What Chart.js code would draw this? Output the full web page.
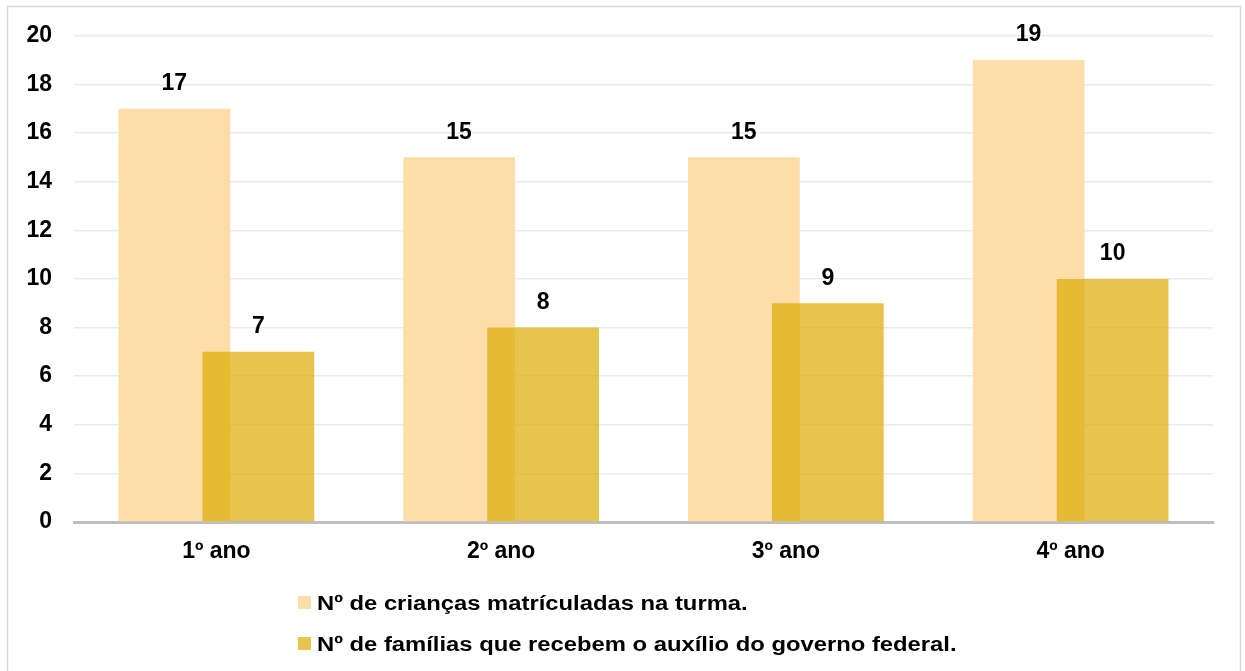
<!DOCTYPE html>
<html>
<head>
<meta charset="utf-8">
<script src="https://cdn.jsdelivr.net/npm/chart.js@4"></script>
<style>
  html, body { margin: 0; padding: 0; background: #fff; }
  #wrap { position: relative; width: 1245px; height: 671px; }
</style>
</head>
<body>
<div id="wrap"><canvas id="chart" width="1245" height="671"></canvas></div>
<script>
// chart data
const categories = ['1º ano', '2º ano', '3º ano', '4º ano'];
const matriculadas = [17, 15, 15, 19];
const familias = [7, 8, 9, 10];
const seriesNames = [
  'Nº de crianças matrículadas na turma.',
  'Nº de famílias que recebem o auxílio do governo federal.'
];
const yMin = 0, yMax = 20, yStep = 2;

const FONT = '"Liberation Sans", Arial, sans-serif';

// white background + light frame around the whole picture
const framePlugin = {
  id: 'frame',
  beforeDraw(chart) {
    const ctx = chart.ctx;
    ctx.save();
    ctx.fillStyle = '#fff';
    ctx.fillRect(0, 0, chart.width, chart.height);
    ctx.strokeStyle = '#D9D9D9';
    ctx.lineWidth = 1.5;
    ctx.strokeRect(7.5, 6.5, 1233, 700);
    ctx.restore();
  }
};

// Chart.js paints the first dataset last (on top); the gold series has to sit
// over the peach one, so skip it in the normal pass and paint it afterwards
const goldOnTop = {
  id: 'goldOnTop',
  beforeDatasetDraw(chart, args) {
    if (args.index === 1) return false;
  },
  afterDatasetsDraw(chart) {
    chart.getDatasetMeta(1).controller.draw();
  }
};

// value labels above each bar
const valueLabels = {
  id: 'valueLabels',
  afterDatasetsDraw(chart) {
    const ctx = chart.ctx;
    ctx.save();
    ctx.font = 'bold 23px ' + FONT;
    ctx.fillStyle = '#000';
    ctx.textAlign = 'center';
    ctx.textBaseline = 'middle';
    chart.data.datasets.forEach((ds, i) => {
      chart.getDatasetMeta(i).data.forEach((bar, j) => {
        ctx.fillText(ds.data[j], bar.x, bar.y - 25);
      });
    });
    ctx.restore();
  }
};

// vertical legend under the x axis
const bottomLegend = {
  id: 'bottomLegend',
  afterDraw(chart) {
    const ctx = chart.ctx;
    ctx.save();
    ctx.textBaseline = 'middle';
    ctx.textAlign = 'left';
    chart.data.datasets.forEach((ds, i) => {
      const y = 603 + i * 41;
      ctx.fillStyle = ds.backgroundColor;
      ctx.fillRect(298, y - 7, 13, 13);
      ctx.fillStyle = '#000';
      ctx.font = 'bold 20px ' + FONT;
      ctx.save();
      ctx.translate(317, y + 1);
      ctx.scale(1.19, 1);
      ctx.fillText(ds.label, 0, 0);
      ctx.restore();
    });
    ctx.restore();
  }
};

const ctx = document.getElementById('chart').getContext('2d');
const chart = new Chart(ctx, {
  type: 'bar',
  data: {
    labels: categories,
    datasets: [{
      label: seriesNames[0],
      data: matriculadas,
      backgroundColor: '#FDDEA8',
      borderWidth: 0
    }, {
      label: seriesNames[1],
      data: familias,
      backgroundColor: 'rgba(220, 171, 2, 0.7)',
      borderWidth: 0
    }]
  },
  options: {
    responsive: false,
    animation: false,
    categoryPercentage: 0.59,
    barPercentage: 1.33,
    layout: { padding: { left: 8, right: 32, top: 35, bottom: 0 } },
    plugins: {
      legend: { display: false },
      tooltip: { enabled: false }
    },
    scales: {
      x: {
        grid: { display: false, drawTicks: false },
        border: { display: true, color: '#BFBFBF', width: 3 },
        ticks: {
          padding: 16,
          color: '#000',
          font: { family: FONT, size: 23, weight: 'bold' }
        },
        afterFit(scale) { scale.height = 149; }
      },
      y: {
        min: yMin,
        max: yMax,
        ticks: {
          stepSize: yStep,
          padding: 22,
          color: '#000',
          font: { family: FONT, size: 23, weight: 'bold' }
        },
        grid: { color: '#EBEBEB', lineWidth: 1.5, drawTicks: false },
        border: { display: false },
        afterFit(scale) { scale.width = 66; }
      }
    }
  },
  plugins: [framePlugin, goldOnTop, valueLabels, bottomLegend]
});
</script>
</body>
</html>
